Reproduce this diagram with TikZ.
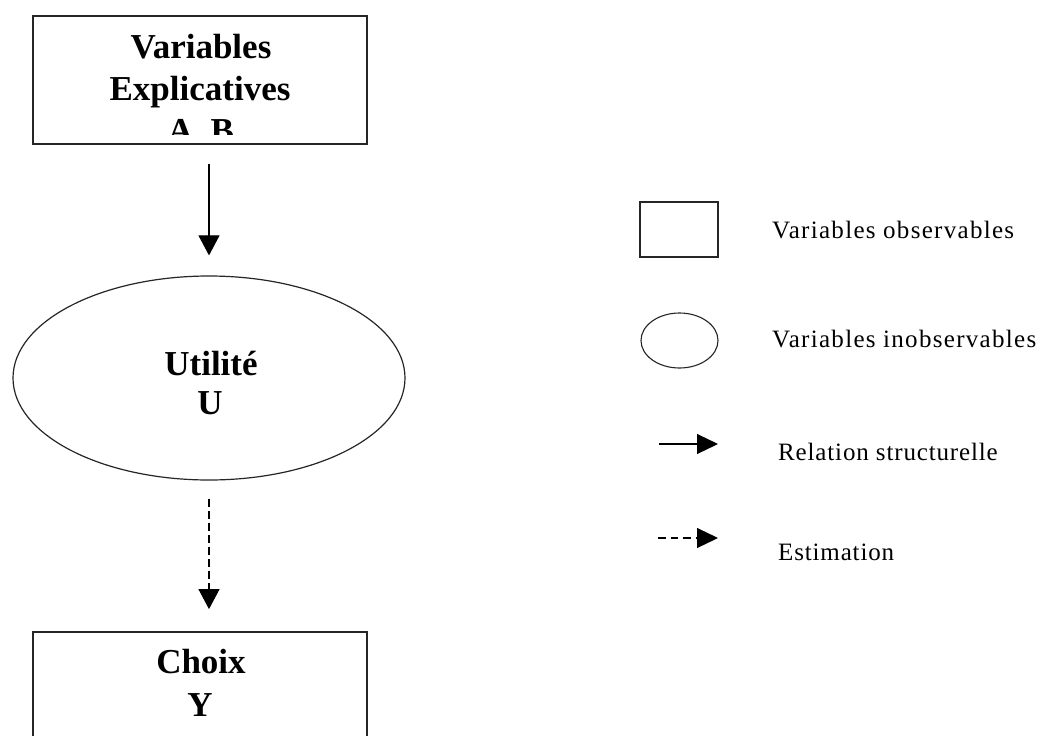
\documentclass[tikz,border=0pt]{standalone}
\usepackage{fontspec}
\setmainfont{Liberation Serif}
\newfontfamily\legfonta[LetterSpace=5.2]{Liberation Serif}
\newfontfamily\legfontb[LetterSpace=3.4]{Liberation Serif}
\usetikzlibrary{shapes.geometric,arrows.meta}
\begin{document}
\begin{tikzpicture}[x=1pt,y=-1pt,
  boxnode/.style={draw=black!85,line width=1.8pt,rectangle,inner sep=0pt},
  ellnode/.style={draw=black!85,line width=1.2pt,ellipse,inner sep=0pt},
  bigtxt/.style={font=\bfseries\fontsize{35}{42}\selectfont,anchor=base,inner sep=0pt},
  legtxta/.style={font=\legfonta\fontsize{25}{30}\selectfont,anchor=base west,inner sep=0pt},
  legtxtb/.style={font=\legfontb\fontsize{25}{30}\selectfont,anchor=base west,inner sep=0pt},
  arr/.style={line width=1.1pt,-{Triangle[width=21pt,length=20pt]}},
  dasharr/.style={arr,dash pattern=on 8pt off 4pt},
  legarr/.style={line width=1.1pt,-{Triangle[width=20pt,length=21pt]}}
]
\useasboundingbox (0,0) rectangle (1044,736);
\clip (0,0) rectangle (1044,736);
\fill[white] (0,0) rectangle (1044,736);

% top box
\node[boxnode,minimum width=334pt,minimum height=128pt] (top) at (200,80) {};
\begin{scope}
\clip (34,17) rectangle (366,134);
\node[bigtxt] (t1) at (201,58) {Variables};
\node[bigtxt] (t2) at (200,100) {Explicatives};
\node[bigtxt] (t3) at (201,142) {A, B};
\end{scope}

% ellipse
\node[ellnode,minimum width=392pt,minimum height=204pt] (U) at (209,378) {};
\node[bigtxt] (u1) at (211,375) {Utilité};
\node[bigtxt] (u2) at (210,414) {U};

% bottom box
\node[boxnode,minimum width=334pt,minimum height=160pt] (bot) at (200,712) {};
\node[bigtxt] (c1) at (201,673) {Choix};
\node[bigtxt] (c2) at (200,716) {Y};

% connectors
\draw[arr,shorten <=19pt,shorten >=20pt] (top.south -| U.north) -- (U.north);
\draw[dasharr,shorten <=18pt,shorten >=22pt] (U.south) -- (U.south |- bot.north);

% legend
\node[draw=black!85,line width=1.5pt,rectangle,minimum width=78pt,minimum height=55pt,inner sep=0pt] (lbox) at (679,229.5) {};
\node[legtxta] (l1) at (772,238) {Variables observables};
\node[draw=black!85,line width=1.1pt,ellipse,minimum width=77pt,minimum height=55pt,inner sep=0pt] (lell) at (679.5,340.5) {};
\node[legtxta] (l2) at (772,347) {Variables inobservables};

\coordinate (ra) at (659,444);
\coordinate (rb) at (718,444);
\draw[legarr] (ra) -- (rb);
\node[legtxtb] (l3) at (778,460) {Relation structurelle};

\coordinate (ea) at (658,538);
\coordinate (eb) at (718,538);
\draw[legarr,dash pattern=on 7.5pt off 5pt] (ea) -- (eb);
\node[legtxtb] (l4) at (778,560) {Estimation};
\end{tikzpicture}
\end{document}
